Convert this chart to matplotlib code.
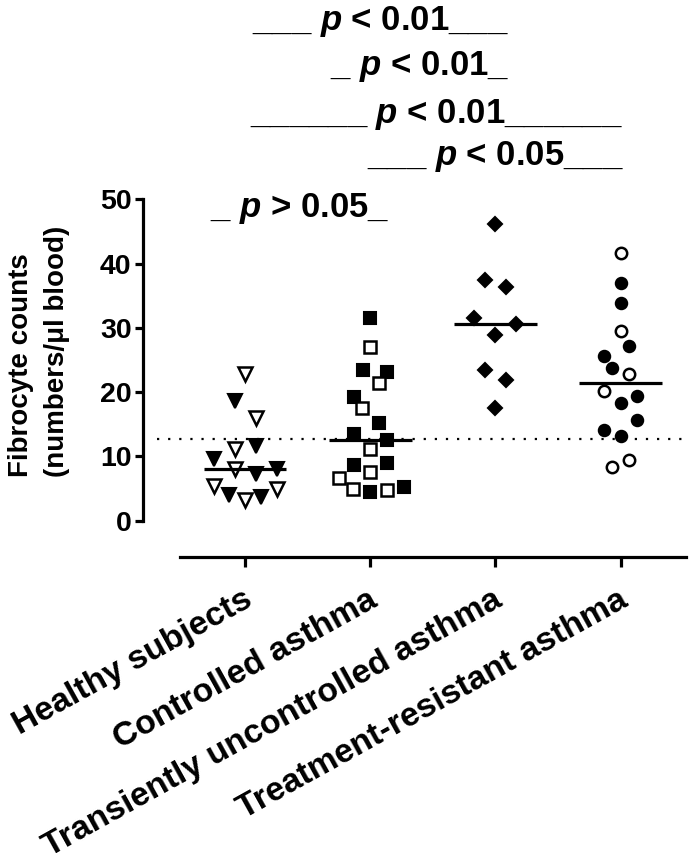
import matplotlib
matplotlib.use("Agg")
import matplotlib.pyplot as plt
import matplotlib.transforms as mtransforms
import numpy as np

plt.rcParams['font.family'] = ['Liberation Sans', 'DejaVu Sans']
plt.rcParams['mathtext.fontset'] = 'custom'
plt.rcParams['mathtext.it'] = 'Liberation Sans:italic:bold'
plt.rcParams['mathtext.rm'] = 'Liberation Sans:bold'
plt.rcParams['mathtext.bf'] = 'Liberation Sans:bold'

# ---------------- data ----------------
categories = ["Healthy subjects", "Controlled asthma",
              "Transiently uncontrolled asthma", "Treatment-resistant asthma"]

healthy_vals = [22.8, 18.6, 15.9, 11.1, 11.6, 9.6, 8.0, 7.2, 8.0, 5.4, 4.0, 3.2, 3.7, 4.9]
healthy_open = [1, 0, 1, 1, 0, 0, 1, 0, 0, 1, 0, 1, 0, 1]
healthy_dx = [0, -1, 1, -1, 1, -3, -1, 1, 3, -3, -1.5, 0, 1.5, 3]

controlled_vals = [31.5, 27.1, 23.4, 23.2, 21.4, 19.2, 17.6, 15.2, 13.5, 12.6,
                   11.2, 8.7, 9.0, 7.6, 6.6, 5.0, 4.4, 4.8, 5.2]
controlled_open = [0, 1, 0, 0, 1, 0, 1, 0, 0, 0, 1, 0, 0, 1, 1, 1, 0, 1, 0]
controlled_dx = [0, 0, -0.7, 1.6, 0.8, -1.5, -0.8, 0.8, -1.5, 1.6,
                 0, -1.5, 1.6, 0, -3, -1.6, 0, 1.6, 3.2]

transient_vals = [46.1, 37.5, 36.4, 31.5, 30.6, 28.9, 23.4, 21.9, 17.5]
transient_open = [0, 0, 0, 0, 0, 0, 0, 0, 0]
transient_dx = [0, -1, 1, -2, 2, 0, -1, 1, 0]

resistant_vals = [41.6, 37.0, 33.8, 29.5, 27.2, 25.7, 23.7, 22.8, 20.1, 19.4,
                  18.3, 15.7, 14.1, 13.2, 9.4, 8.3]
resistant_open = [1, 0, 0, 1, 0, 0, 0, 1, 1, 0, 0, 0, 0, 0, 1, 1]
resistant_dx = [0, 0, 0, 0, 0.8, -1.6, -0.8, 0.8, -1.6, 1.6, 0, 1.6, -1.6, 0, 0.8, -0.8]

groups = [(healthy_vals, healthy_open, healthy_dx, 'v', 10),
          (controlled_vals, controlled_open, controlled_dx, 's', 8),
          (transient_vals, transient_open, transient_dx, 'D', 7),
          (resistant_vals, resistant_open, resistant_dx, 'o', 8.2)]

reference_level = 12.7
yticks = [0, 10, 20, 30, 40, 50]

pvalue_texts = ["___ $p$ < 0.01___", "_ $p$ < 0.01_", "______ $p$ < 0.01______",
                "___ $p$ < 0.05___", "_ $p$ > 0.05_"]

# ---------------- figure ----------------
W, H = 689, 863
fig = plt.figure(figsize=(W / 100, H / 100), dpi=100)

ax_left, ax_right, ax_top, ax_bot = 142.7, 686, 199.3, 520.7
ax = fig.add_axes([ax_left / W, 1 - ax_bot / H, (ax_right - ax_left) / W, (ax_bot - ax_top) / H])

spacing_px = 125.2
x0_px = 245
xmin = -(x0_px - ax_left) / spacing_px
xmax = 3 + (ax_right - (x0_px + 3 * spacing_px)) / spacing_px
ax.set_xlim(xmin, xmax)
ax.set_ylim(0, 50)

step = 10.5 / spacing_px
for i, (vals, opn, dxs, mk, ms) in enumerate(groups):
    vals = np.array(vals)
    opn = np.array(opn, dtype=bool)
    xs = i + np.array(dxs) * step
    ax.plot(xs[~opn], vals[~opn], linestyle='none', marker=mk, ms=ms,
            mfc='black', mec='black', mew=1.5, clip_on=False, zorder=3)
    ax.plot(xs[opn], vals[opn], linestyle='none', marker=mk, ms=ms,
            mfc='white', mec='black', mew=1.8, clip_on=False, zorder=3)
    med = np.median(vals)
    ax.plot([i - 0.33, i + 0.33], [med, med], color='black', lw=2.3,
            solid_capstyle='butt', zorder=4)

dot_start = -(x0_px - 157) / spacing_px
ax.plot([dot_start, xmax], [reference_level, reference_level], color='black',
        lw=1.6, linestyle=(0, (1, 4)), zorder=2, clip_on=False)

# spines
for s in ['top', 'right']:
    ax.spines[s].set_visible(False)
ax.spines['left'].set_linewidth(2.3)
ax.spines['left'].set_bounds(0, 50)
ax.spines['bottom'].set_linewidth(2.3)
ax.spines['bottom'].set_position(('outward', 36 * 0.72))
ax.spines['bottom'].set_bounds(-(x0_px - 180) / spacing_px, xmax)

ax.set_yticks(yticks)
ax.set_yticklabels([str(t) for t in yticks], fontsize=20.5, fontweight='bold')
ax.tick_params(axis='y', length=6, width=2.3, pad=2)
ax.set_xticks(range(len(categories)))
ax.set_xticklabels([])
ax.tick_params(axis='x', length=7, width=2.3)
ax.patch.set_alpha(0)

# category labels
trans = mtransforms.blended_transform_factory(ax.transData, fig.transFigure)
for i, c in enumerate(categories):
    ax.text(i - 3 / spacing_px, 1 - 584 / H, c, transform=trans, rotation=29,
            rotation_mode='anchor', ha='right', va='top', fontsize=24.3,
            fontweight='bold')

# y label (two lines)
fig.text(21 / W, 1 - 365 / H, "Fibrocyte counts", rotation=90,
         ha='center', va='center', fontsize=20, fontweight='bold')
fig.text(57 / W, 1 - 351 / H, "(numbers/\u03bcl blood)", rotation=90,
         ha='center', va='center', fontsize=20, fontweight='bold')

# p-value annotations
p_centers = [380, 419.5, 436, 495.5, 300]
p_baselines = [30, 75, 123, 165, 217]
for t, cx, by in zip(pvalue_texts, p_centers, p_baselines):
    fig.text(cx / W, 1 - by / H, t, ha='center', va='baseline', fontsize=25,
             fontweight='bold')

fig.savefig("out.png", dpi=100)
